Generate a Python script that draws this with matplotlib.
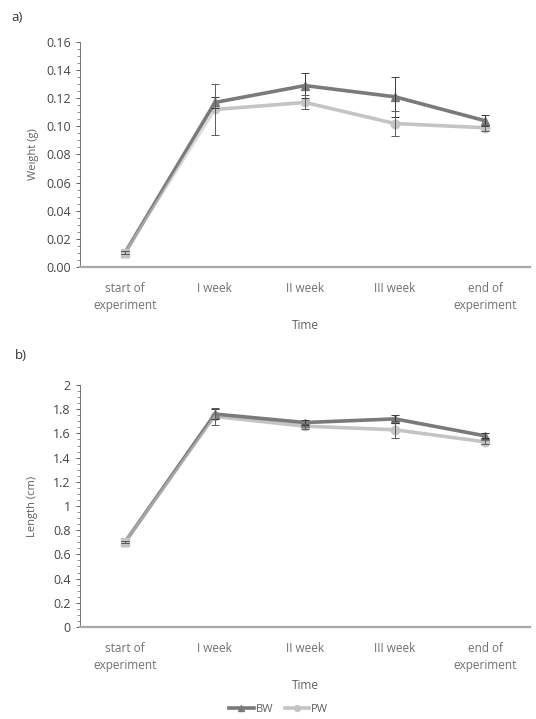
import matplotlib
matplotlib.use("Agg")
import matplotlib.pyplot as plt
import numpy as np
from matplotlib.ticker import MultipleLocator, FormatStrFormatter

plt.rcParams["font.family"] = ["Open Sans", "DejaVu Sans"]

# Data
categories = ["start of\nexperiment", "I week", "II week", "III week", "end of\nexperiment"]
weight_bw = [0.010, 0.117, 0.129, 0.121, 0.104]
weight_bw_err = [0.001, 0.004, 0.009, 0.014, 0.004]
weight_pw = [0.010, 0.112, 0.117, 0.102, 0.099]
weight_pw_err = [0.001, 0.018, 0.005, 0.009, 0.002]

length_bw = [0.70, 1.76, 1.69, 1.72, 1.58]
length_bw_err = [0.01, 0.04, 0.02, 0.03, 0.02]
length_pw = [0.70, 1.74, 1.66, 1.63, 1.53]
length_pw_err = [0.01, 0.07, 0.02, 0.07, 0.02]

bw_color = "#7a7a7a"
pw_color = "#c4c4c4"
text_color = "#454545"

fig = plt.figure(figsize=(5.36, 7.19), dpi=100)
ax1 = fig.add_axes([0.149, 0.6287, 0.84, 0.3129])
ax2 = fig.add_axes([0.149, 0.1280, 0.84, 0.3365])

x = np.arange(len(categories))


def draw(ax, bw, bw_err, pw, pw_err):
    ax.plot(x, bw, color=bw_color, lw=2.6, marker="^", ms=6, zorder=3, label="BW")
    ax.plot(x[1:], pw[1:], color=pw_color, lw=2.6, marker="o", ms=6, zorder=2, label="PW")
    # start point: light series drawn on top
    ax.plot(x[:2], pw[:2], color=pw_color, lw=2.0, alpha=0.6, zorder=3.5)
    ax.plot(x[0], pw[0], color=pw_color, marker="s", ms=6, zorder=3.6)
    ax.errorbar(x, bw, yerr=bw_err, fmt="none", ecolor="#3a3a3a", elinewidth=0.7,
                capsize=3, capthick=0.7, zorder=4)
    ax.errorbar(x, pw, yerr=pw_err, fmt="none", ecolor="#5a5a5a", elinewidth=0.7,
                capsize=3, capthick=0.7, zorder=4)
    ax.set_xlim(-0.5, 4.5)
    ax.set_xticks(x)
    ax.set_xticklabels(categories, fontsize=8.5, color="#707070", linespacing=1.35)
    ax.tick_params(axis="x", length=0, pad=11)
    ax.tick_params(axis="y", which="major", labelsize=9, colors=text_color, length=3, width=0.6)
    ax.tick_params(axis="y", which="minor", length=2, width=0.5, colors="#606060")
    ax.spines["top"].set_visible(False)
    ax.spines["right"].set_visible(False)
    ax.spines["left"].set_color("#606060")
    ax.spines["left"].set_linewidth(0.6)
    ax.spines["bottom"].set_color("#a8a8a8")
    ax.spines["bottom"].set_linewidth(1.6)
    ax.set_xlabel("Time", fontsize=8.5, color="#606060", labelpad=5)


draw(ax1, weight_bw, weight_bw_err, weight_pw, weight_pw_err)
ax1.set_ylim(0, 0.16)
ax1.yaxis.set_major_locator(MultipleLocator(0.02))
ax1.yaxis.set_minor_locator(MultipleLocator(0.005))
ax1.yaxis.set_major_formatter(FormatStrFormatter("%.2f"))
ax1.set_ylabel("Weight (g)", fontsize=8, color="#606060", labelpad=5)

draw(ax2, length_bw, length_bw_err, length_pw, length_pw_err)
ax2.set_ylim(0, 2)
ax2.yaxis.set_minor_locator(MultipleLocator(0.05))
ax2.set_yticks(np.arange(0, 2.01, 0.2))
ax2.set_yticklabels(["0", "0.2", "0.4", "0.6", "0.8", "1", "1.2", "1.4", "1.6", "1.8", "2"])
ax2.set_ylabel("Length (cm)", fontsize=8, color="#606060", labelpad=11)

fig.text(0.022, 0.975, "a)", fontsize=9.5, color="#333333", va="center")
fig.text(0.028, 0.506, "b)", fontsize=9.5, color="#333333", va="center")

handles, labels = ax2.get_legend_handles_labels()
fig.legend(handles, labels, loc="center", bbox_to_anchor=(0.52, 0.013), ncol=2,
           frameon=False, fontsize=8, labelcolor="#606060", handlelength=2.2,
           handletextpad=0.2, columnspacing=1.0, markerscale=0.7)

fig.savefig("out.png", dpi=100)
